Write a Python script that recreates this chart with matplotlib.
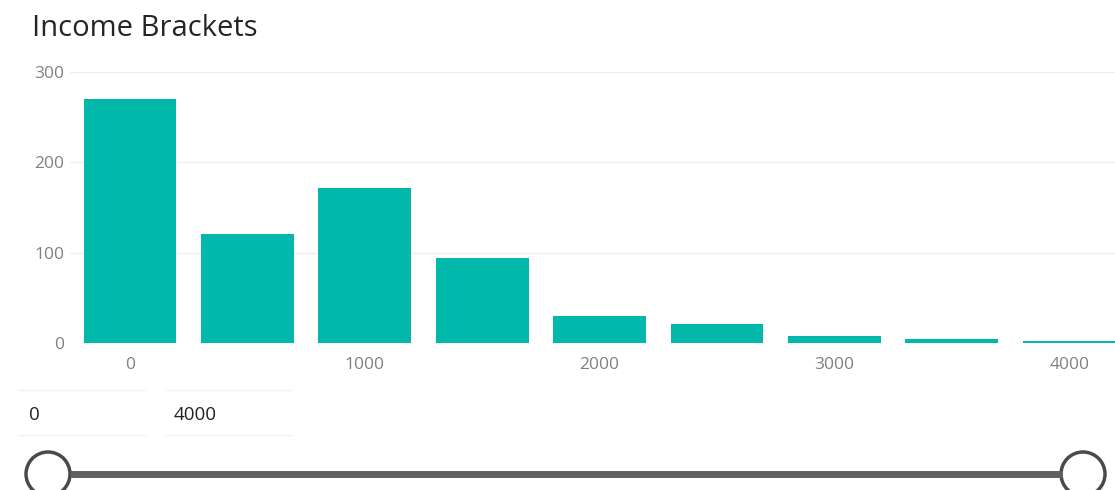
import matplotlib.pyplot as plt
from matplotlib.patches import Circle
from matplotlib.lines import Line2D

plt.rcParams['font.family'] = ['Open Sans', 'DejaVu Sans']

# income bracket start values and counts
brackets = [0, 500, 1000, 1500, 2000, 2500, 3000, 3500, 4000]
counts = [270, 121, 172, 94, 30, 21, 8, 4, 2]
x_ticks = [0, 1000, 2000, 3000, 4000]
y_ticks = [0, 100, 200, 300]
slider_min, slider_max = 0, 4000

W, H = 1115, 490
fig = plt.figure(figsize=(W / 100, H / 100), dpi=100)

# plot area in pixels: left 70, right 1115, top 72, bottom 343
ax = fig.add_axes([70 / W, 1 - 343 / H, (1115 - 70) / W, (343 - 72) / H])
ax.bar(brackets, counts, width=395, color='#01B8AA', zorder=2)
ax.set_xlim(-255, 4195)
ax.set_ylim(0, 300)
ax.set_xticks(x_ticks)
ax.set_xticklabels([str(t) for t in x_ticks])
ax.set_yticks(y_ticks)
ax.grid(axis='y', color='#efefef', linewidth=1, zorder=0)
for s in ax.spines.values():
    s.set_visible(False)
ax.tick_params(length=0, labelsize=12.5, labelcolor='#808080')
ax.tick_params(axis='y', pad=4)
ax.tick_params(axis='x', pad=10)
for lab in ax.get_yticklabels():
    lab.set_horizontalalignment('right')

fig.text(32 / W, 1 - 29 / H, 'Income Brackets', fontsize=21, color='#252525',
         va='center', ha='left')

# slider control under the chart
fig.text(29 / W, 1 - 415 / H, str(slider_min), fontsize=13.5, color='#222222', va='center')
fig.text(174 / W, 1 - 415 / H, str(slider_max), fontsize=13.5, color='#222222', va='center')
for x0, x1, y in [(18, 145, 390), (165, 292, 390), (18, 145, 435), (165, 292, 435)]:
    fig.add_artist(Line2D([x0 / W, x1 / W], [1 - y / H, 1 - y / H], color='#f3f3f3', lw=1))

ov = fig.add_axes([0, 0, 1, 1], zorder=5)
ov.set_xlim(0, W)
ov.set_ylim(H, 0)
ov.axis('off')
ov.plot([70, 1062], [474, 474], color='#606060', lw=5, solid_capstyle='butt')
for cx in (48, 1083):
    ov.add_patch(Circle((cx, 474), 22, facecolor='white', edgecolor='#4a4a4a', lw=2.5))

fig.savefig('out.png', dpi=100)
